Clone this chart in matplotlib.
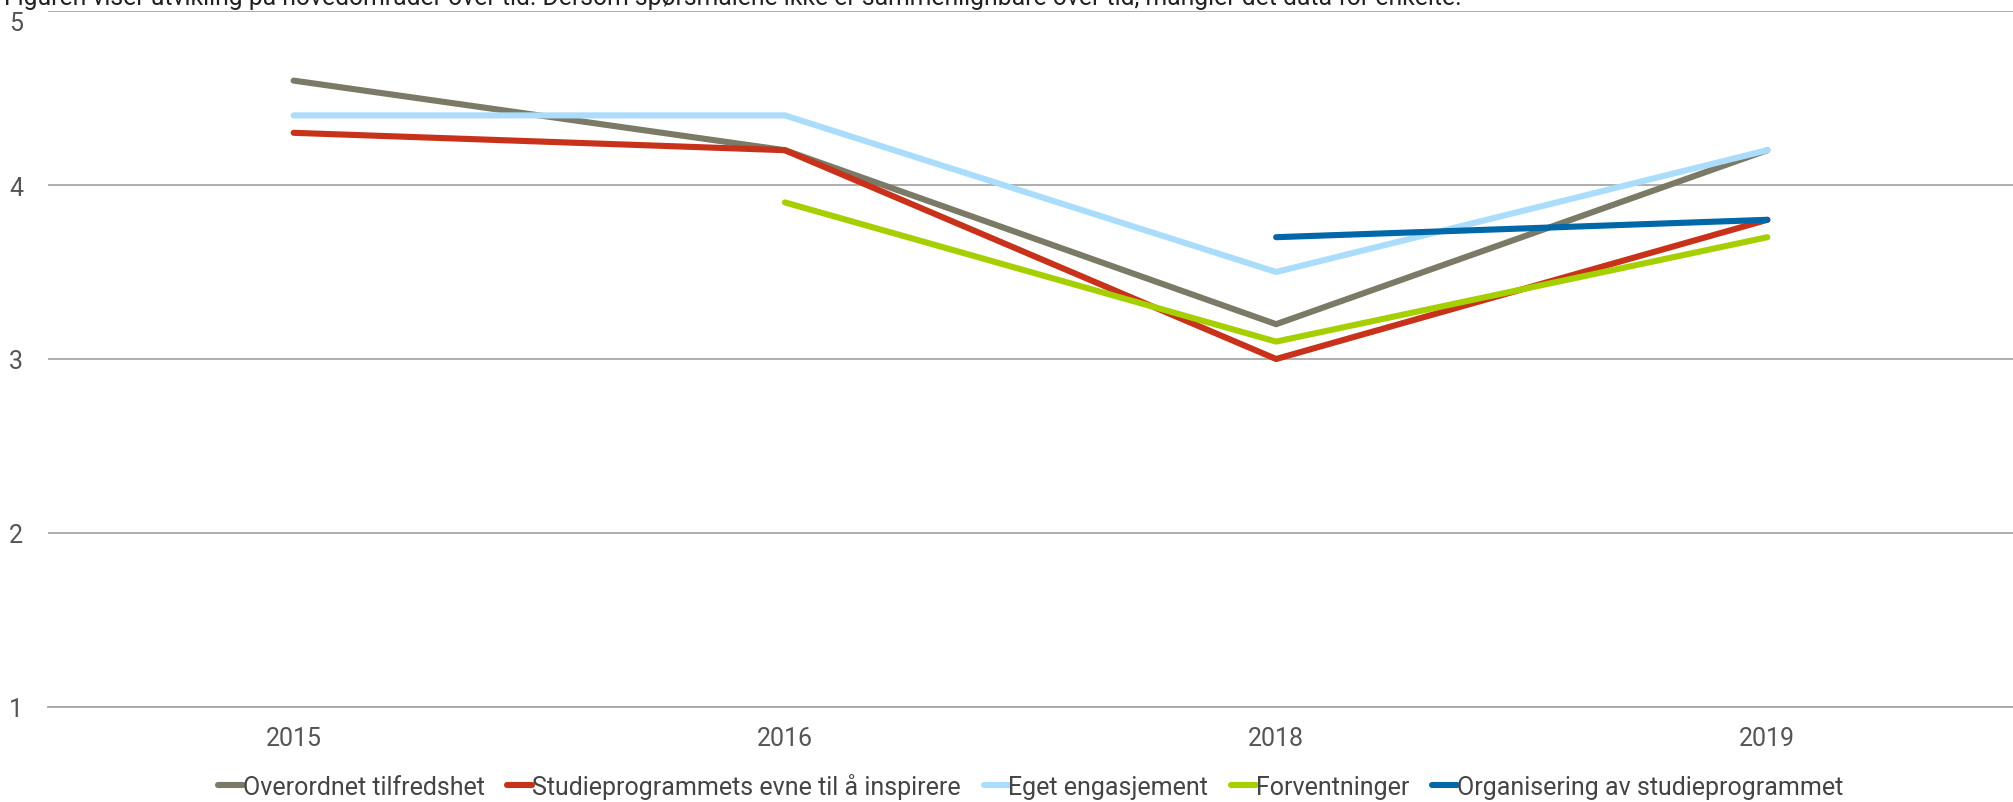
import numpy as np
import matplotlib.pyplot as plt

# ---- data --------------------------------------------------------------
years = ['2015', '2016', '2018', '2019']
overordnet = [4.6, 4.2, 3.2, 4.2]
inspirere = [4.3, 4.2, 3.0, 3.8]
engasjement = [4.4, 4.4, 3.5, 4.2]
forventninger = [np.nan, 3.9, 3.1, 3.7]
organisering = [np.nan, np.nan, 3.7, 3.8]

series = [
    ('Overordnet tilfredshet', overordnet, '#7b7a67'),
    ('Studieprogrammets evne til å inspirere', inspirere, '#c8321a'),
    ('Eget engasjement', engasjement, '#aadcfb'),
    ('Forventninger', forventninger, '#a6cf00'),
    ('Organisering av studieprogrammet', organisering, '#0068a8'),
]

plt.rcParams['font.family'] = ['Roboto', 'DejaVu Sans']

fig = plt.figure(figsize=(20.13, 8.03), dpi=100)
ax = fig.add_axes([48 / 2013, 1 - 708 / 803, 1 - 48 / 2013, 696 / 803])

x = np.arange(len(years))
for name, vals, col in series:
    ax.plot(x, vals, color=col, linewidth=4.4, label=name, solid_capstyle='round')

ax.set_xlim(-0.5, 3.5)
ax.set_ylim(1, 5)
ax.set_yticks([1, 2, 3, 4, 5])
ax.set_xticks(x)
ax.set_xticklabels(years)
ax.grid(axis='y', color='#a8a8a8', linewidth=1.3)
ax.set_axisbelow(True)
for s in ['top', 'right', 'left']:
    ax.spines[s].set_visible(False)
ax.spines['bottom'].set_color('#a8a8a8')
ax.spines['bottom'].set_linewidth(1.3)
ax.tick_params(length=0, labelsize=18, colors='#555555', pad=14)
ax.tick_params(axis='y', pad=18)

# top label sits just under its gridline so it stays inside the picture
ax.get_yticklabels()[-1].set_verticalalignment('top')

# caption line, partly cut off at the top edge as in the source
fig.text(4 / 2013, 1 - 5 / 803, 'Figuren viser utvikling på hovedområder over tid. Dersom spørsmålene ikke er '
         'sammenlignbare over tid, mangler det data for enkelte.',
         fontsize=17.8, color='#222222', va='baseline', ha='left')

ax.legend(loc='center', bbox_to_anchor=(0.5, (1 - 787 / 803 - (1 - 708 / 803)) / (696 / 803)),
          ncol=5, frameon=False, fontsize=18, handlelength=1.0, handletextpad=0.0,
          columnspacing=0.9, labelcolor='#444444')

fig.savefig('out.png', dpi=100)
